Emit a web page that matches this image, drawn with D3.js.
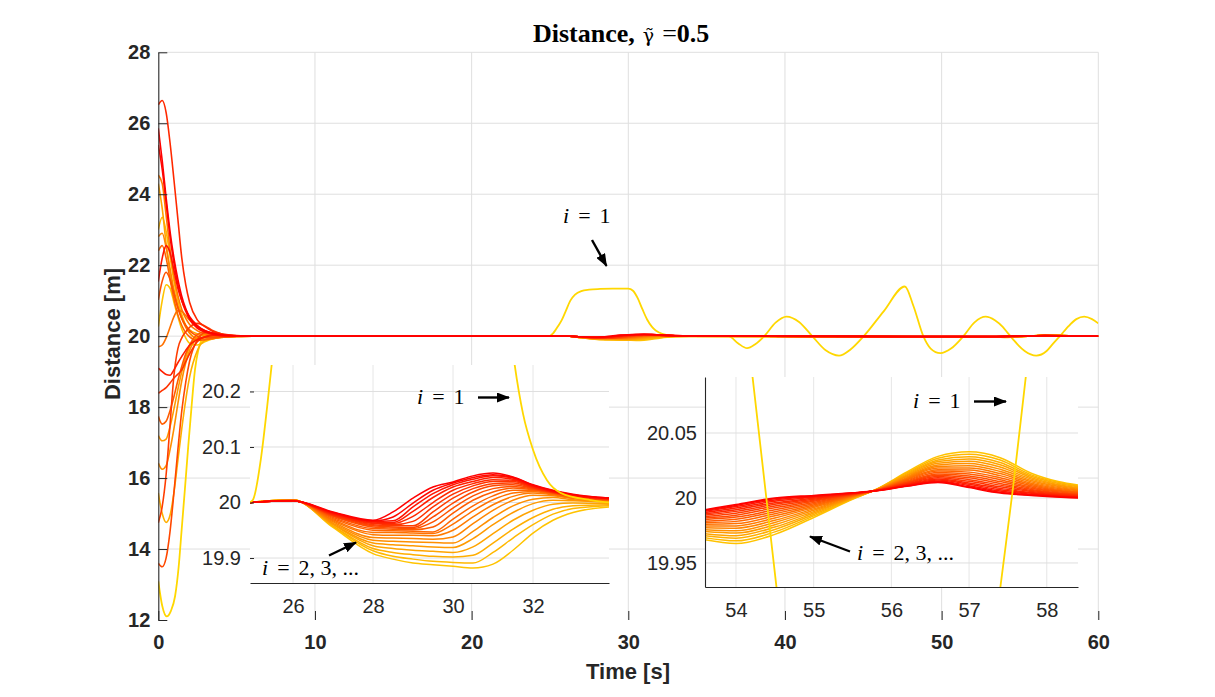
<!DOCTYPE html>
<html><head><meta charset="utf-8">
<script src="https://cdn.jsdelivr.net/npm/d3@7"></script>
<style>body{margin:0;background:#fff;}svg{display:block;}</style>
</head><body>
<svg id="chart" width="1215" height="697"></svg>
<script>
// ---------------- DATA ----------------
const mainXTicks = [0, 10, 20, 30, 40, 50, 60];
const mainYTicks = [12, 14, 16, 18, 20, 22, 24, 26, 28];
const leftXTicks = [26, 28, 30, 32];
const leftYTicks = [19.9, 20, 20.1, 20.2];
const rightXTicks = [54, 55, 56, 57, 58];
const rightYTicks = [19.95, 20, 20.05];

// vehicle i = 1 (leader)
const leaderTime = [0,0.25,0.54,0.8,1.07,1.3,1.49,1.7,1.91,2.12,2.34,2.55,2.77,3.0,3.5,4,5,24.9,25.0,25.2,25.35,25.5,25.75,26.0,26.3,26.6,27.0,27.5,28.2,29.0,30.0,30.3,30.6,30.9,31.2,31.5,31.75,32.0,32.35,32.7,33.4,34.0,36.4,37.0,37.58,38.1,38.68,39.4,40.1,40.9,41.74,42.6,43.45,44.2,45.03,46.3,47.65,48.2,48.83,49.3,49.92,50.6,51.39,52.1,52.81,53.4,53.9,54.2,54.4,54.6,54.9,55.3,56.04,56.7,57.1,57.4,57.57,57.8,58.1,58.6,59.1,59.6,60];
const leaderValues = [13.09,12.4,12.1,12.25,12.67,13.5,14.54,15.7,16.89,18.0,19.05,19.6,19.9,20.02,20.03,20.01,20,20,20.005,20.08,20.17,20.27,20.45,20.7,21.0,21.17,21.27,21.31,21.33,21.34,21.34,21.28,21.07,20.76,20.47,20.27,20.16,20.095,20.04,20.017,20.005,20.0,20.0,19.8,19.66,19.77,20.0,20.38,20.55,20.4,20.0,19.6,19.45,19.63,20.0,20.7,21.4,20.85,20.0,19.65,19.52,19.65,20.0,20.39,20.55,20.45,20.26,20.1,19.995,19.89,19.74,19.58,19.45,19.58,19.78,19.93,20.01,20.13,20.28,20.48,20.55,20.48,20.36];

// followers i = 21 ... 2  (row 0 = reddest, row 19 = most yellow)
const initTime = [0,0.25,0.5,0.75,1,1.25,1.5,1.75,2,2.5,3,3.5,4,5,6];
const initValues = [
 [25.86,24.95,23.9,22.95,22.2,21.6,21.12,20.78,20.52,20.27,20.15,20.08,20.04,20.01,20.0],
 [25.39,24.7,23.75,22.8,22.05,21.45,21.0,20.7,20.47,20.22,20.11,20.05,20.02,20.0,20.0],
 [21.54,22.2,22.55,22.35,21.85,21.35,21.0,20.75,20.55,20.3,20.15,20.07,20.03,20.01,20.0],
 [19.1,19.0,18.92,18.9,19.05,19.25,19.43,19.6,19.75,19.9,19.98,20.01,20.01,20.0,20.0],
 [26.52,26.64,26.3,25.45,24.4,23.3,22.2,21.45,20.95,20.45,20.26,20.13,20.07,20.02,20.0],
 [18.39,18.47,18.55,18.68,18.82,18.93,19.05,19.28,19.5,19.85,19.99,20.03,20.02,20.01,20.0],
 [14.74,15.2,16.1,17.5,18.9,19.65,19.95,20.12,20.25,20.36,20.28,20.15,20.07,20.01,20.0],
 [13.6,13.5,13.75,14.5,15.6,16.8,17.9,18.7,19.3,19.9,20.1,20.1,20.05,20.01,20.0],
 [21.02,21.55,21.8,21.6,21.2,20.8,20.5,20.3,20.15,20.0,19.95,19.96,19.98,20.0,20.0],
 [17.74,17.52,17.6,17.9,18.3,18.75,19.15,19.5,19.75,20.05,20.12,20.08,20.04,20.01,20.0],
 [22.4,22.55,22.2,21.6,21.05,20.6,20.3,20.1,19.98,19.88,19.9,19.94,19.97,19.99,20.0],
 [19.7,19.75,19.95,20.25,20.55,20.72,20.7,20.58,20.45,20.25,20.12,20.05,20.02,20.0,20.0],
 [24.54,24.3,23.4,22.45,21.7,21.15,20.75,20.5,20.33,20.15,20.07,20.03,20.01,20.0,20.0],
 [22.8,22.9,22.5,21.9,21.3,20.85,20.5,20.25,20.08,19.92,19.9,19.93,19.96,19.99,20.0],
 [16.42,16.25,16.35,16.8,17.4,18.1,18.75,19.25,19.6,19.95,20.05,20.04,20.02,20.0,20.0],
 [17.2,17.05,17.1,17.45,17.95,18.5,19.0,19.4,19.7,19.98,20.06,20.05,20.02,20.0,20.0],
 [24.3,23.6,22.6,21.8,21.2,20.8,20.5,20.3,20.18,20.06,20.0,19.98,19.98,19.99,20.0],
 [15.58,15.0,14.75,14.95,15.6,16.5,17.4,18.2,18.85,19.6,19.9,19.98,20.0,20.0,20.0],
 [23.0,23.35,22.95,22.25,21.55,21.0,20.6,20.3,20.1,19.93,19.9,19.93,19.96,19.99,20.0],
 [20.27,21.0,21.45,21.35,20.95,20.55,20.2,19.95,19.8,19.75,19.85,19.93,19.97,20.0,20.0]
];

const leftTime = [24.9,26,27,28,28.5,29,29.5,30,30.5,31,31.5,32,32.5,33,33.9];
const leftValues = [
 [20,20.003,19.983,19.968,19.983,20.008,20.028,20.037,20.048,20.053,20.046,20.032,20.022,20.015,20.008],
 [20,20.003,19.982,19.967,19.974,19.999,20.022,20.035,20.045,20.050,20.045,20.031,20.021,20.014,20.008],
 [20,20.003,19.981,19.966,19.967,19.992,20.016,20.032,20.042,20.048,20.044,20.030,20.020,20.013,20.007],
 [20,20.003,19.980,19.965,19.964,19.984,20.009,20.028,20.038,20.045,20.042,20.029,20.020,20.013,20.007],
 [20,20.003,19.979,19.963,19.962,19.975,20.000,20.022,20.034,20.041,20.040,20.028,20.019,20.012,20.007],
 [20,20.003,19.978,19.962,19.960,19.966,19.992,20.015,20.030,20.038,20.038,20.027,20.019,20.012,20.006],
 [20,20.003,19.977,19.960,19.958,19.958,19.983,20.008,20.025,20.034,20.035,20.026,20.018,20.011,20.006],
 [20,20.003,19.976,19.958,19.956,19.955,19.974,19.999,20.019,20.030,20.032,20.025,20.018,20.011,20.006],
 [20,20.003,19.975,19.956,19.954,19.953,19.965,19.990,20.012,20.025,20.029,20.024,20.017,20.011,20.005],
 [20,20.003,19.973,19.953,19.952,19.951,19.956,19.981,20.004,20.019,20.026,20.023,20.017,20.010,20.005],
 [20,20.004,19.971,19.950,19.949,19.948,19.947,19.970,19.994,20.012,20.022,20.022,20.016,20.010,20.005],
 [20,20.004,19.969,19.946,19.946,19.945,19.944,19.961,19.985,20.005,20.017,20.020,20.015,20.009,20.004],
 [20,20.004,19.967,19.942,19.941,19.941,19.940,19.950,19.974,19.996,20.011,20.017,20.014,20.008,20.004],
 [20,20.004,19.965,19.937,19.936,19.935,19.934,19.938,19.962,19.986,20.004,20.013,20.012,20.007,20.003],
 [20,20.004,19.963,19.932,19.930,19.929,19.928,19.927,19.948,19.973,19.994,20.006,20.009,20.005,20.002],
 [20,20.004,19.961,19.927,19.924,19.922,19.920,19.919,19.935,19.960,19.982,19.998,20.004,20.003,20.000],
 [20,20.005,19.960,19.922,19.917,19.914,19.912,19.910,19.920,19.944,19.968,19.986,19.997,19.999,19.998],
 [20,20.005,19.958,19.917,19.910,19.906,19.903,19.902,19.905,19.927,19.952,19.973,19.988,19.994,19.996],
 [20,20.005,19.957,19.913,19.903,19.898,19.894,19.892,19.891,19.910,19.936,19.960,19.979,19.989,19.994],
 [20,20.005,19.955,19.908,19.898,19.891,19.888,19.885,19.882,19.889,19.914,19.945,19.968,19.982,19.992]
];

const rightTime = [53.5,54,54.5,55,55.5,55.8,56.2,56.6,57,57.4,57.8,58.5,60];
const rightValues = [
 [19.990,19.995,20.000,20.002,20.004,20.0055,20.009,20.012,20.008,20.0038,20.002,20.000,20.000],
 [19.9895,19.9943,19.9994,20.0016,20.0039,20.0055,20.0092,20.0124,20.0086,20.0044,20.0024,20.0002,20.000],
 [19.9889,19.9934,19.9985,20.0011,20.0037,20.0056,20.0096,20.0131,20.0095,20.0053,20.0029,20.0005,20.000],
 [19.9881,19.9923,19.9975,20.0005,20.0035,20.0056,20.0100,20.0138,20.0105,20.0063,20.0036,20.0008,20.000],
 [19.9872,19.9910,19.9963,19.9998,20.0033,20.0056,20.0105,20.0146,20.0116,20.0074,20.0042,20.0012,20.000],
 [19.9863,19.9897,19.9951,19.9990,20.0031,20.0057,20.0109,20.0155,20.0128,20.0086,20.0050,20.0016,20.000],
 [19.9853,19.9883,19.9938,19.9982,20.0029,20.0057,20.0115,20.0165,20.0141,20.0099,20.0058,20.0020,20.000],
 [19.9843,19.9868,19.9924,19.9974,20.0026,20.0058,20.0120,20.0175,20.0155,20.0112,20.0066,20.0025,20.000],
 [19.9832,19.9853,19.9909,19.9965,20.0024,20.0058,20.0126,20.0185,20.0169,20.0126,20.0075,20.0029,20.000],
 [19.9820,19.9836,19.9894,19.9956,20.0021,20.0059,20.0132,20.0196,20.0184,20.0141,20.0084,20.0034,20.000],
 [19.9809,19.9820,19.9879,19.9946,20.0018,20.0059,20.0138,20.0207,20.0199,20.0156,20.0094,20.0039,20.001],
 [19.9797,19.9803,19.9863,19.9937,20.0015,20.0060,20.0144,20.0218,20.0215,20.0172,20.0104,20.0044,20.001],
 [19.9785,19.9785,19.9846,19.9927,20.0013,20.0061,20.0151,20.0230,20.0231,20.0188,20.0114,20.0050,20.001],
 [19.9772,19.9767,19.9829,19.9916,20.0009,20.0061,20.0157,20.0242,20.0248,20.0204,20.0124,20.0055,20.001],
 [19.9759,19.9748,19.9812,19.9906,20.0006,20.0062,20.0164,20.0254,20.0265,20.0221,20.0134,20.0060,20.001],
 [19.9746,19.9730,19.9794,19.9895,20.0003,20.0062,20.0171,20.0267,20.0282,20.0238,20.0145,20.0066,20.001],
 [19.9732,19.9710,19.9776,19.9884,20.0000,20.0063,20.0178,20.0280,20.0300,20.0256,20.0156,20.0072,20.002],
 [19.9718,19.9691,19.9758,19.9873,19.9997,20.0064,20.0185,20.0293,20.0318,20.0273,20.0167,20.0078,20.002],
 [19.9704,19.9670,19.9739,19.9862,19.9993,20.0064,20.0193,20.0306,20.0336,20.0292,20.0178,20.0084,20.002],
 [19.9690,19.9650,19.9720,19.9850,19.9990,20.0065,20.0200,20.0320,20.0355,20.0310,20.0190,20.0090,20.002]
];

// ---------------- DRAWING ----------------
const svg = d3.select('#chart');
const axisColor = '#262626', gridColor = '#dfdfdf';
const leaderColor = 'rgb(255,215,0)';
const nF = initValues.length;
const followerColor = j => d3.rgb(255, Math.round(215 * j / (nF + 1)), 0).toString();
const sans = '"Liberation Sans", Arial, Helvetica, sans-serif';
const serif = '"Liberation Serif", "Times New Roman", serif';

const zip = (ts, vs) => ts.map((t, k) => [t, vs[k]]);
const leaderPts = zip(leaderTime, leaderValues);
const followerMain = initValues.map((row, j) =>
  zip(initTime, row).concat(zip(leftTime, leftValues[j])).concat(zip(rightTime, rightValues[j])));
const followerLeft = leftValues.map(row => zip(leftTime, row));
const followerRight = rightValues.map(row => zip(rightTime, row));

const defs = svg.append('defs');
function clip(id, x0, y0, w, h) {
  defs.append('clipPath').attr('id', id).append('rect').attr('x', x0).attr('y', y0).attr('width', w).attr('height', h);
}
defs.append('marker').attr('id', 'arrow').attr('markerUnits', 'userSpaceOnUse')
  .attr('markerWidth', 13).attr('markerHeight', 10).attr('refX', 12).attr('refY', 5).attr('orient', 'auto')
  .append('path').attr('d', 'M0,0 L13,5 L0,10 Z').attr('fill', '#000');

// ---- main axes ----
const x = d3.scaleLinear().domain([0, 60]).range([158.3, 1098.3]);
const y = d3.scaleLinear().domain([12, 28]).range([620, 52.3]);
clip('clipMain', 158.3, 50, 940, 572);

const gMain = svg.append('g');
gMain.selectAll('.vg').data(mainXTicks.filter(d => d > 0)).enter().append('line')
  .attr('x1', d => x(d)).attr('x2', d => x(d)).attr('y1', y(28)).attr('y2', y(12))
  .attr('stroke', gridColor).attr('stroke-width', 1);
gMain.selectAll('.hg').data(mainYTicks.filter(d => d > 12)).enter().append('line')
  .attr('x1', x(0)).attr('x2', x(60)).attr('y1', d => y(d)).attr('y2', d => y(d))
  .attr('stroke', gridColor).attr('stroke-width', 1);

const lineMain = d3.line().x(d => x(d[0])).y(d => y(d[1])).curve(d3.curveMonotoneX);
const gLines = gMain.append('g').attr('clip-path', 'url(#clipMain)');
gLines.append('path').datum(leaderPts).attr('d', lineMain).attr('fill', 'none')
  .attr('stroke', leaderColor).attr('stroke-width', 1.8);
for (let j = nF - 1; j >= 0; j--) {
  gLines.append('path').datum(followerMain[j]).attr('d', lineMain).attr('fill', 'none')
    .attr('stroke', followerColor(j)).attr('stroke-width', 1.6);
}

const yAxis = d3.axisLeft(y).tickValues(mainYTicks).tickSizeInner(-9).tickSizeOuter(0).tickPadding(8);
const gy = svg.append('g').attr('transform', `translate(${x(0)},0)`).call(yAxis);
gy.select('.domain').attr('stroke', axisColor).attr('stroke-width', 1.1);
gy.selectAll('.tick line').attr('stroke', axisColor);
gy.selectAll('text').attr('font-family', sans).attr('font-size', 20).attr('font-weight', 'bold').attr('fill', axisColor);

const xAxis = d3.axisBottom(x).tickValues(mainXTicks).tickSizeInner(-9).tickSizeOuter(0).tickPadding(15);
const gx = svg.append('g').attr('transform', `translate(0,${y(12)})`).call(xAxis);
gx.select('.domain').remove();
gx.selectAll('.tick line').attr('stroke', axisColor);
gx.selectAll('text').attr('font-family', sans).attr('font-size', 20).attr('font-weight', 'bold').attr('fill', axisColor);

// ---- inset helper ----
function inset(opts) {
  const { id, xd, yd, xr, yr, xt, yt, showLeftLine, leftTicks } = opts;
  const sx = d3.scaleLinear().domain(xd).range(xr);
  const sy = d3.scaleLinear().domain(yd).range(yr);
  const g = svg.append('g');
  g.append('rect').attr('x', xr[0]).attr('y', yr[1]).attr('width', xr[1] - xr[0]).attr('height', yr[0] - yr[1]).attr('fill', '#fff');
  clip(id, xr[0], yr[1], xr[1] - xr[0], yr[0] - yr[1]);
  g.selectAll('.ivg').data(xt).enter().append('line')
    .attr('x1', d => sx(d)).attr('x2', d => sx(d)).attr('y1', yr[1]).attr('y2', yr[0])
    .attr('stroke', '#e6e6e6').attr('stroke-width', 1);
  g.selectAll('.ihg').data(yt).enter().append('line')
    .attr('x1', xr[0]).attr('x2', xr[1]).attr('y1', d => sy(d)).attr('y2', d => sy(d))
    .attr('stroke', gridColor).attr('stroke-width', 1);
  const ln = d3.line().x(d => sx(d[0])).y(d => sy(d[1])).curve(d3.curveMonotoneX);
  const gl = g.append('g').attr('clip-path', `url(#${id})`);
  for (let j = nF - 1; j >= 0; j--) {
    gl.append('path').datum(opts.followers[j]).attr('d', ln).attr('fill', 'none')
      .attr('stroke', followerColor(j)).attr('stroke-width', 1.5);
  }
  gl.append('path').datum(leaderPts).attr('d', ln).attr('fill', 'none')
    .attr('stroke', leaderColor).attr('stroke-width', 1.8);
  const ay = d3.axisLeft(sy).tickValues(yt).tickFormat(d => String(d))
    .tickSizeInner(leftTicks ? -4 : 0).tickSizeOuter(0).tickPadding(leftTicks ? 9 : 8);
  const gay = g.append('g').attr('transform', `translate(${xr[0]},0)`).call(ay);
  if (showLeftLine) gay.select('.domain').attr('stroke', axisColor).attr('stroke-width', 1.1);
  else gay.select('.domain').remove();
  gay.selectAll('.tick line').attr('stroke', axisColor);
  gay.selectAll('text').attr('font-family', sans).attr('font-size', 20).attr('fill', axisColor);
  const ax = d3.axisBottom(sx).tickValues(xt).tickFormat(d => String(d)).tickSize(0).tickPadding(16);
  const gax = g.append('g').attr('transform', `translate(0,${yr[0]})`).call(ax);
  gax.select('.domain').attr('stroke', axisColor).attr('stroke-width', 1.1);
  gax.selectAll('text').attr('font-family', sans).attr('font-size', 20).attr('fill', axisColor);
}

inset({ id: 'clipL', xd: [24.925, 33.9], yd: [19.855, 20.2477], xr: [250, 609], yr: [583, 365],
  xt: leftXTicks, yt: leftYTicks, showLeftLine: false, leftTicks: true, followers: followerLeft });
inset({ id: 'clipR', xd: [53.601, 58.402], yd: [19.9315, 20.0931], xr: [705, 1078], yr: [587, 377],
  xt: rightXTicks, yt: rightYTicks, showLeftLine: true, leftTicks: false, followers: followerRight });

// ---- annotations ----
function mathLabel(x0, y0, rest) {
  const t = svg.append('text').attr('x', x0).attr('y', y0)
    .attr('font-family', serif).attr('font-size', 22).attr('fill', '#000');
  t.append('tspan').attr('font-style', 'italic').text('i');
  t.append('tspan').attr('dx', 9).text('=');
  t.append('tspan').attr('dx', 9).text(rest);
}
function arrow(x1, y1, x2, y2) {
  svg.append('line').attr('x1', x1).attr('y1', y1).attr('x2', x2).attr('y2', y2)
    .attr('stroke', '#000').attr('stroke-width', 2.4).attr('marker-end', 'url(#arrow)');
}
mathLabel(563, 223, '1');
arrow(592, 240, 606.5, 266);
mathLabel(417, 404, '1');
arrow(478, 397.5, 509, 397.5);
mathLabel(262, 575, '2, 3, ...');
arrow(329, 555.5, 356, 542.5);
mathLabel(913, 408, '1');
arrow(974, 401.5, 1006, 401.5);
mathLabel(857, 560, '2, 3, ...');
arrow(850, 551.5, 810, 536.5);

// ---- title and axis labels ----
const title = svg.append('text').attr('x', 533).attr('y', 42)
  .attr('font-family', serif).attr('font-size', 26).attr('fill', '#000');
title.append('tspan').attr('font-weight', 'bold').text('Distance,');
title.append('tspan').attr('dx', 8).attr('font-family', '"DejaVu Serif", serif').attr('font-size', 19).text('\u03B3\u0303');
title.append('tspan').attr('dx', 8).text('=');
title.append('tspan').attr('font-weight', 'bold').text('0.5');

svg.append('text').attr('x', 628).attr('y', 679).attr('text-anchor', 'middle')
  .attr('font-family', sans).attr('font-size', 22).attr('font-weight', 'bold').attr('fill', axisColor).text('Time [s]');
svg.append('text').attr('transform', 'translate(120,334) rotate(-90)').attr('text-anchor', 'middle')
  .attr('font-family', sans).attr('font-size', 22).attr('font-weight', 'bold').attr('fill', axisColor).text('Distance [m]');
</script>
</body></html>
